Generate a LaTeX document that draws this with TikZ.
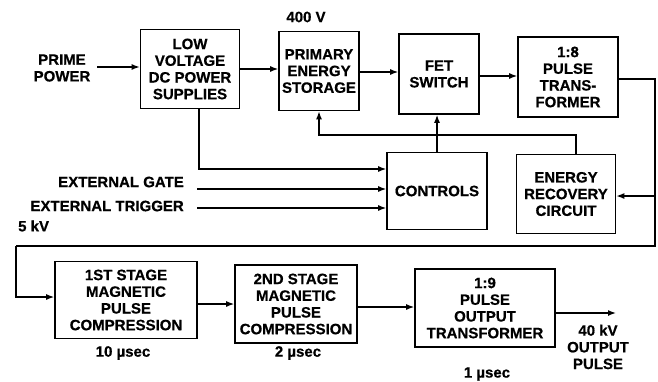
\documentclass[tikz,border=0pt]{standalone}
\usepackage{fontspec}
\setmainfont[FakeBold=0.6]{Liberation Sans}
\usetikzlibrary{arrows.meta}
\begin{document}
\begin{tikzpicture}[x=1pt,y=-1pt,
  font=\fontsize{15}{16.7}\selectfont\bfseries,
  box/.style={draw,line width=1.6pt,align=center,inner sep=0pt},
  lbl/.style={align=center,inner sep=0pt},
  conn/.style={line width=1.4pt,-{Latex[length=8pt,width=6pt]}},
  wire/.style={line width=1.4pt}]
\useasboundingbox (0,0) rectangle (658,381);
% boxes
\node[box,minimum width=99pt,minimum height=79pt] (lv) at (190,69) {LOW\\VOLTAGE\\DC POWER\\SUPPLIES};
\node[box,minimum width=80pt,minimum height=79pt] (pes) at (319,71) {PRIMARY\\ENERGY\\STORAGE};
\node[box,minimum width=80pt,minimum height=80pt] (fet) at (439,74) {FET\\SWITCH};
\node[box,minimum width=100pt,minimum height=80pt] (pt) at (568,77) {1:8\\PULSE\\TRANS-\\FORMER};
\node[box,minimum width=100pt,minimum height=77pt] (ctl) at (437,191) {CONTROLS};
\node[box,minimum width=99pt,minimum height=79pt] (erc) at (566,194) {ENERGY\\RECOVERY\\CIRCUIT};
\node[box,minimum width=142pt,minimum height=77pt] (s1) at (126,300) {1ST STAGE\\MAGNETIC\\PULSE\\COMPRESSION};
\node[box,minimum width=122pt,minimum height=78pt] (s2) at (296,304) {2ND STAGE\\MAGNETIC\\PULSE\\COMPRESSION};
\node[box,minimum width=140pt,minimum height=78pt] (ot) at (485,308) {1:9\\PULSE\\OUTPUT\\TRANSFORMER};
% labels
\node[lbl] (pp) at (62,68) {PRIME\\POWER};
\node[lbl] (v400) at (306,17) {400 V};
\node[lbl,anchor=east] (eg) at (184,182) {EXTERNAL GATE};
\node[lbl,anchor=east] (et) at (184,206) {EXTERNAL TRIGGER};
\node[lbl,anchor=west] (v5) at (18,226) {5 kV};
\node[lbl] (t10) at (123,353) {10 µsec};
\node[lbl] (t2) at (298,353) {2 µsec};
\node[lbl] (t1) at (487,374) {1 µsec};
\node[lbl] (out) at (598,347) {40 kV\\OUTPUT\\PULSE};
% coordinates
\coordinate (ppe) at (97,67);
\coordinate (ote) at (616,313);
\coordinate (r1) at (655,79);
\coordinate (r2) at (655,246);
\coordinate (l1) at (16,246);
% connectors
\draw[conn] (ppe) -- (ppe -| lv.west);
\draw[conn] (lv.east |- 0,69) -- (pes.west |- 0,69);
\draw[conn] (pes.east |- 0,72) -- (fet.west |- 0,72);
\draw[conn] (fet.east |- 0,76) -- (pt.west |- 0,76);
\draw[wire] (pt.east |- r1) -- (r1) -- (r2) -- (l1);
\draw[conn] (l1) |- (s1.west |- 0,297);
\draw[conn] (655,196) -- (erc.east |- 0,196);
\draw[conn] (erc.north) ++(10,0) |- (319,135) -- (pes.south);
\draw[conn] (ctl.north) -- (ctl.north |- fet.south);
\draw[conn] (199,108.5) |- (ctl.west |- 0,169);
\draw[conn] (eg.east) ++(13,7) -- (ctl.west |- 0,189);
\draw[conn] (et.east) ++(13,2) -- (ctl.west |- 0,208);
\draw[conn] (s1.east |- 0,304) -- (s2.west |- 0,304);
\draw[conn] (s2.east |- 0,307) -- (ot.west |- 0,307);
\draw[conn] (ot.east |- ote) -- (ote);
\end{tikzpicture}
\end{document}
